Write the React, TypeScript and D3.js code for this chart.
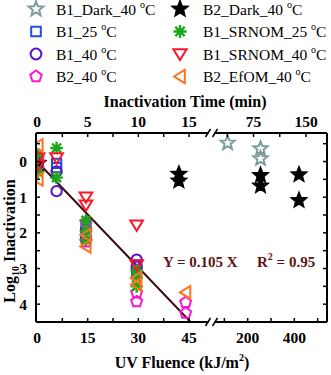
import { useEffect, useRef } from 'react';
import * as d3 from 'd3';

// fluence (kJ/m2) vs log10 inactivation
const b1_25 = [[0.3, 0], [0.3, 0.1], [5.8, 0.05], [5.8, 0.17], [14.5, 1.8], [14.5, 2.0], [29.5, 2.9], [29.5, 3.1]];
const b1_40 = [[0.3, 0.05], [5.8, 0.28], [5.8, 0.83], [14.5, 1.9], [14.5, 2.15], [29.5, 2.75], [29.5, 2.95]];
const b2_40 = [[0.3, -0.1], [0.3, 0.2], [14.5, 1.7], [14.5, 2.25], [29.5, 3.68], [29.5, 3.93], [44, 3.95], [44, 4.25]];
const b1Srnom25 = [[0.3, -0.2], [0.3, 0.3], [5.8, -0.38], [5.8, 0.45], [14.5, 1.65], [14.5, 1.95], [14.5, 2.2], [29.5, 3.05], [29.5, 3.25], [29.5, 3.5]];
const b1Srnom40 = [[0.3, -0.1], [0.3, 0.1], [5.8, -0.1], [14.5, 1.0], [14.5, 1.22], [29.5, 1.78], [29.5, 2.9]];
const b2Efom40 = [[0.3, -0.45], [0.3, 0.5], [14.5, 2.06], [14.5, 2.38], [29.5, 3.27], [29.5, 3.45], [44, 3.67]];
// dark controls: time (min) vs log10 inactivation
const b1Dark = [[38, -0.52], [85, -0.36], [85, -0.08]];
const b2Dark = [[0.1, 0.05], [14, 0.35], [14, 0.54], [85, 0.39], [85, 0.68], [140, 0.37], [140, 1.09]];

const fitSlope = 0.099; // drawn line, label says 0.105
const fluenceTicksLeft = [0, 15, 30, 45];
const fluenceTicksRight = [200, 400];
const timeTicksLeft = [0, 5, 10, 15];
const timeTicksRight = [75, 150];
const yTicks = [0, 1, 2, 3, 4];

const series = [
  { name: 'B1_Dark_40 ', data: b1Dark, time: true, shape: 'star', color: '#7d9c9c', fill: '#ffffff' },
  { name: 'B1_25 ', data: b1_25, shape: 'square', color: '#1f4fe0', fill: 'none' },
  { name: 'B1_40 ', data: b1_40, shape: 'circle', color: '#5a12c8', fill: 'none' },
  { name: 'B2_40 ', data: b2_40, shape: 'pentagon', color: '#ff14d2', fill: 'none' },
  { name: 'B2_Dark_40 ', data: b2Dark, time: true, shape: 'star', color: '#000000', fill: '#000000' },
  { name: 'B1_SRNOM_25 ', data: b1Srnom25, shape: 'asterisk', color: '#1aa81a', fill: 'none' },
  { name: 'B1_SRNOM_40 ', data: b1Srnom40, shape: 'down', color: '#ff1428', fill: 'none' },
  { name: 'B2_EfOM_40 ', data: b2Efom40, shape: 'left', color: '#ff7420', fill: 'none' },
];

function shapePath(shape: string, k = 1.15) {
  const p = d3.path();
  if (shape === 'star') {
    for (let i = 0; i < 10; i++) {
      const r = (i % 2 === 0 ? 6.4 : 2.8) * k;
      const a = -Math.PI / 2 + (i * Math.PI) / 5;
      if (i === 0) p.moveTo(r * Math.cos(a), r * Math.sin(a));
      else p.lineTo(r * Math.cos(a), r * Math.sin(a));
    }
    p.closePath();
  } else if (shape === 'square') {
    p.rect(-4 * k, -4 * k, 8 * k, 8 * k);
  } else if (shape === 'circle') {
    p.moveTo(4.5 * k, 0);
    p.arc(0, 0, 4.5 * k, 0, Math.PI * 2);
  } else if (shape === 'pentagon') {
    for (let i = 0; i < 5; i++) {
      const a = -Math.PI / 2 + (i * 2 * Math.PI) / 5;
      if (i === 0) p.moveTo(5 * k * Math.cos(a), 5 * k * Math.sin(a));
      else p.lineTo(5 * k * Math.cos(a), 5 * k * Math.sin(a));
    }
    p.closePath();
  } else if (shape === 'asterisk') {
    for (let i = 0; i < 4; i++) {
      const a = (i * Math.PI) / 4;
      p.moveTo(-5.5 * k * Math.cos(a), -5.5 * k * Math.sin(a));
      p.lineTo(5.5 * k * Math.cos(a), 5.5 * k * Math.sin(a));
    }
  } else if (shape === 'down') {
    p.moveTo(-5.5 * k, -4 * k); p.lineTo(5.5 * k, -4 * k); p.lineTo(0, 5 * k); p.closePath();
  } else if (shape === 'left') {
    p.moveTo(-5 * k, 0); p.lineTo(4 * k, -5.5 * k); p.lineTo(4 * k, 5.5 * k); p.closePath();
  }
  return p.toString();
}

export default function App() {
  const ref = useRef<SVGSVGElement>(null);

  useEffect(() => {
    const svg = d3.select(ref.current);
    svg.selectAll('*').remove();

    const left = 36, right = 327, top = 133, bottom = 322, brk = 211.5;
    const y = d3.scaleLinear().domain([-0.8, 4.5]).range([top, bottom]);
    const xl = d3.scaleLinear().domain([0, 51.5]).range([37, 211]);
    const xr = d3.scaleLinear().domain([47, 540]).range([212, 327]);
    const x = (v: number) => (v <= 50 ? xl(v) : xr(v));
    const xt = (t: number) => x(t * 3);

    svg.append('defs').append('clipPath').attr('id', 'plotclip')
      .append('rect').attr('x', left).attr('y', top).attr('width', right - left).attr('height', bottom - top);

    const font = "'Liberation Serif', 'Times New Roman', serif";

    // fit line
    svg.append('line')
      .attr('clip-path', 'url(#plotclip)')
      .attr('x1', x(0)).attr('y1', y(0))
      .attr('x2', x(4.6 / fitSlope)).attr('y2', y(4.6))
      .attr('stroke', '#3a0808').attr('stroke-width', 2);

    // markers
    const g = svg.append('g').attr('clip-path', 'url(#plotclip)');
    series.forEach(s => {
      g.selectAll(null)
        .data(s.data)
        .enter().append('path')
        .attr('d', shapePath(s.shape))
        .attr('transform', d => `translate(${s.time ? xt(d[0]) : x(d[0])},${y(d[1])})`)
        .attr('fill', s.fill)
        .attr('stroke', s.color)
        .attr('stroke-width', s.shape === 'asterisk' ? 2.4 : 2);
    });

    // frame
    const frame = svg.append('g').attr('stroke', '#000').attr('stroke-width', 2).attr('fill', 'none');
    frame.append('line').attr('x1', left).attr('x2', left).attr('y1', top).attr('y2', bottom);
    frame.append('line').attr('x1', right).attr('x2', right).attr('y1', top).attr('y2', bottom);
    [top, bottom].forEach(yy => {
      frame.append('line').attr('x1', left).attr('x2', brk - 3).attr('y1', yy).attr('y2', yy);
      frame.append('line').attr('x1', brk + 3).attr('x2', right).attr('y1', yy).attr('y2', yy);
      frame.append('line').attr('x1', brk - 6).attr('x2', brk - 1).attr('y1', yy + 4).attr('y2', yy - 4).attr('stroke-width', 1.5);
      frame.append('line').attr('x1', brk + 1).attr('x2', brk + 6).attr('y1', yy + 4).attr('y2', yy - 4).attr('stroke-width', 1.5);
    });

    const ticks = svg.append('g').attr('stroke', '#000').attr('stroke-width', 1.5);
    // y ticks every 0.5
    d3.range(-0.5, 4.5, 0.5).forEach(v => {
      ticks.append('line').attr('x1', left).attr('x2', left + 4).attr('y1', y(v)).attr('y2', y(v));
      ticks.append('line').attr('x1', right).attr('x2', right - 4).attr('y1', y(v)).attr('y2', y(v));
    });
    // bottom ticks
    d3.range(7.5, 50, 7.5).forEach(v => {
      ticks.append('line').attr('x1', x(v)).attr('x2', x(v)).attr('y1', bottom).attr('y2', bottom - 4);
    });
    [100, 200, 300, 400, 500].forEach(v => {
      ticks.append('line').attr('x1', x(v)).attr('x2', x(v)).attr('y1', bottom).attr('y2', bottom - 4);
    });
    // top ticks
    [...d3.range(2.5, 16, 2.5), 37.5, 75, 112.5, 150].forEach(t => {
      ticks.append('line').attr('x1', xt(t)).attr('x2', xt(t)).attr('y1', top).attr('y2', top + 4);
    });

    const lab = svg.append('g').attr('font-family', font).attr('font-weight', 'bold').attr('font-size', 15.5).attr('fill', '#000');
    yTicks.forEach(v => {
      lab.append('text').attr('x', 27).attr('y', y(v)).attr('dy', '0.35em').attr('text-anchor', 'end').text(v);
    });
    [...fluenceTicksLeft, ...fluenceTicksRight].forEach(v => {
      lab.append('text').attr('x', x(v)).attr('y', 343).attr('text-anchor', 'middle').text(v);
    });
    [...timeTicksLeft, ...timeTicksRight].forEach(t => {
      lab.append('text').attr('x', xt(t)).attr('y', 127).attr('text-anchor', 'middle').text(t);
    });

    // axis titles
    const titles = svg.append('g').attr('font-family', font).attr('font-weight', 'bold').attr('font-size', 16).attr('fill', '#000');
    titles.append('text').attr('x', 185).attr('y', 107).attr('text-anchor', 'middle').text('Inactivation Time (min)');
    const xt2 = titles.append('text').attr('x', 182).attr('y', 368).attr('text-anchor', 'middle');
    xt2.append('tspan').text('UV Fluence (kJ/m');
    xt2.append('tspan').attr('font-size', 10).attr('dy', -7).text('2');
    xt2.append('tspan').attr('dy', 7).text(')');
    const yt = titles.append('text').attr('transform', 'translate(15,241) rotate(-90)').attr('text-anchor', 'middle');
    yt.append('tspan').text('Log');
    yt.append('tspan').attr('font-size', 10).attr('dy', 4).text('10');
    yt.append('tspan').attr('dy', -4).text(' Inactivation');

    // equation
    const eq = svg.append('g').attr('font-family', font).attr('font-weight', 'bold').attr('font-size', 15).attr('fill', '#5e1414');
    eq.append('text').attr('x', 163).attr('y', 267).text('Y = 0.105 X');
    const r2 = eq.append('text').attr('x', 257).attr('y', 267);
    r2.append('tspan').text('R');
    r2.append('tspan').attr('font-size', 10).attr('dy', -7).text('2');
    r2.append('tspan').attr('dy', 7).text(' = 0.95');

    // legend
    const leg = svg.append('g');
    series.forEach((s, i) => {
      const col = i < 4 ? 0 : 1;
      const row = i % 4;
      const sx = col === 0 ? 36 : 180;
      const tx = col === 0 ? 56 : 203;
      const cy = 9 + row * 22.5;
      leg.append('path').attr('d', shapePath(s.shape, 1.2)).attr('transform', `translate(${sx},${cy})`)
        .attr('fill', s.fill).attr('stroke', s.color).attr('stroke-width', s.shape === 'asterisk' ? 2.4 : 2);
      const t = leg.append('text').attr('x', tx).attr('y', cy + 5.5).attr('font-family', font).attr('font-size', 15.5);
      t.append('tspan').text(s.name);
      t.append('tspan').attr('font-size', 10).attr('dy', -7).text('o');
      t.append('tspan').attr('dy', 7).text('C');
    });
  }, []);

  return (
    <svg ref={ref} width={331} height={375} style={{ position: 'absolute', left: 0, top: 0, background: '#fff' }} />
  );
}
